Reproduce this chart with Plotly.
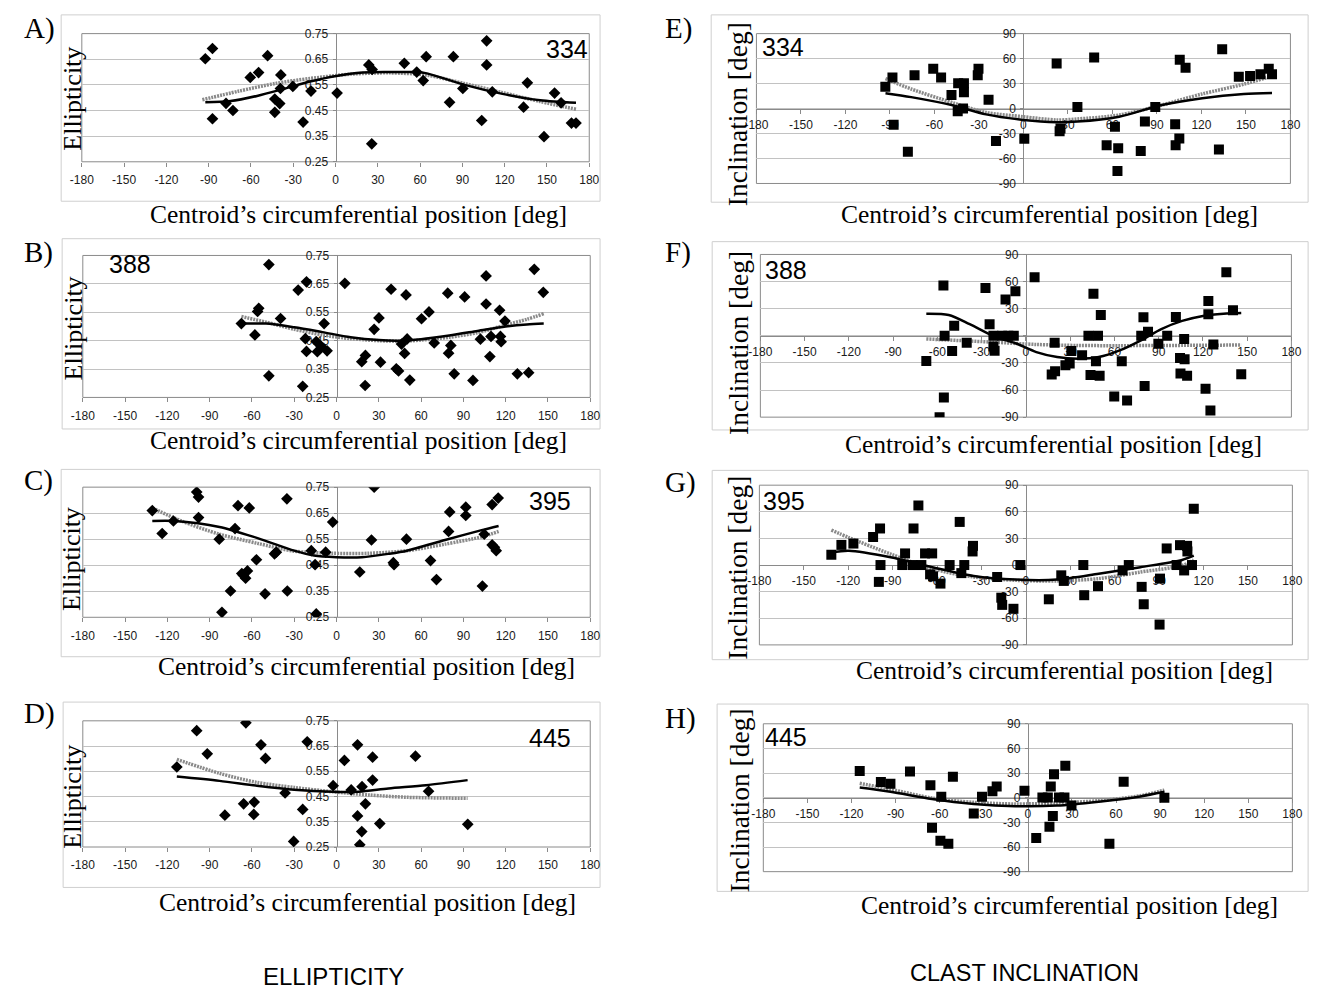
import plotly.graph_objects as go

W, H = 1325, 995

# ---------------- data ----------------
X_TICKS = [-180, -150, -120, -90, -60, -30, 0, 30, 60, 90, 120, 150, 180]
X_TICK_TEXT = ['-180', '-150', '-120', '-90', '-60', '-30', '0', '30', '60', '90', '120', '150', '180']
ELL_TICKS = [0.25, 0.35, 0.45, 0.55, 0.65, 0.75]
ELL_TICK_TEXT = ['0.25', '0.35', '0.45', '0.55', '0.65', '0.75']
INC_TICKS = [-90, -60, -30, 0, 30, 60, 90]
INC_TICK_TEXT = ['-90', '-60', '-30', '0', '30', '60', '90']

A_x = [-92.4, -87.3, -87.3, -77.7, -72.8, -60.5, -54.6, -48.2, -43.1, -43.1, -39.6, -38.8, -39.1, -30.3, -23.0, -17.4, 1.1, 23.6, 26.0, 25.7, 48.8, 57.6, 62.2, 64.3, 80.9, 83.6, 90.3, 103.7, 107.2, 107.2, 111.2, 133.4, 136.1, 147.9, 155.4, 160.0, 167.4, 170.6]
A_y = [0.652, 0.692, 0.418, 0.478, 0.450, 0.579, 0.598, 0.664, 0.495, 0.443, 0.477, 0.589, 0.536, 0.544, 0.405, 0.526, 0.518, 0.628, 0.610, 0.320, 0.634, 0.600, 0.567, 0.660, 0.482, 0.660, 0.536, 0.411, 0.722, 0.628, 0.523, 0.463, 0.558, 0.348, 0.518, 0.480, 0.401, 0.401]
A_fit_x = [-92.4, -74.5, -55.7, -37.0, -18.2, 0.5, 19.3, 38.1, 56.8, 64.8, 91.6, 118.4, 145.2, 170.6]
A_fit_y = [0.482, 0.487, 0.507, 0.534, 0.563, 0.585, 0.598, 0.600, 0.600, 0.595, 0.550, 0.515, 0.490, 0.480]
A_poly_x = [-94.5, -69.1, -42.3, -18.2, 11.3, 38.1, 64.8, 91.6, 118.4, 145.2, 170.6]
A_poly_y = [0.492, 0.525, 0.556, 0.575, 0.592, 0.597, 0.588, 0.555, 0.520, 0.485, 0.455]

B_x = [-67.5, -57.9, -56.0, -55.2, -48.0, -48.0, -39.7, -27.2, -24.0, -21.3, -22.1, -21.3, -14.4, -13.6, -10.7, -8.8, -6.7, 5.9, 17.9, 20.5, 20.3, 26.7, 30.1, 31.2, 38.7, 42.4, 44.0, 46.1, 48.3, 49.3, 50.1, 52.0, 60.3, 65.6, 69.3, 78.9, 79.5, 81.1, 83.5, 90.9, 96.8, 102.1, 106.1, 106.1, 108.8, 109.6, 115.7, 116.3, 116.8, 119.5, 128.3, 136.3, 140.3, 146.7]
B_y = [0.510, 0.470, 0.553, 0.564, 0.718, 0.326, 0.528, 0.628, 0.289, 0.657, 0.457, 0.412, 0.447, 0.411, 0.429, 0.510, 0.414, 0.652, 0.376, 0.398, 0.292, 0.490, 0.530, 0.374, 0.631, 0.351, 0.343, 0.438, 0.405, 0.611, 0.456, 0.311, 0.527, 0.551, 0.442, 0.617, 0.406, 0.433, 0.333, 0.604, 0.310, 0.455, 0.579, 0.678, 0.394, 0.465, 0.557, 0.465, 0.446, 0.519, 0.333, 0.337, 0.701, 0.620]
B_fit_x = [-67.5, -50, -30, -10, 10, 30, 45, 60, 80, 100, 120, 135, 147]
B_fit_y = [0.510, 0.510, 0.497, 0.480, 0.462, 0.452, 0.450, 0.455, 0.468, 0.484, 0.500, 0.507, 0.510]
B_poly_x = [-67.5, -50, -30, -10, 10, 30, 45, 60, 80, 100, 120, 135, 147]
B_poly_y = [0.535, 0.515, 0.490, 0.470, 0.457, 0.450, 0.448, 0.452, 0.462, 0.478, 0.505, 0.525, 0.545]

C_x = [-130.7, -123.7, -115.7, -99.2, -97.9, -97.9, -83.2, -81.3, -75.2, -72.0, -69.9, -67.2, -66.1, -64.5, -63.2, -61.9, -56.8, -50.7, -44.0, -42.7, -35.2, -34.9, -17.9, -15.2, -14.4, -7.7, -2.7, 16.5, 24.8, 26.7, 40.3, 40.8, 49.6, 66.7, 70.9, 79.5, 80.3, 91.7, 91.7, 103.5, 104.8, 110.4, 110.4, 112.0, 113.3, 114.7]
C_y = [0.660, 0.572, 0.620, 0.731, 0.712, 0.633, 0.550, 0.269, 0.351, 0.591, 0.679, 0.418, 0.412, 0.400, 0.428, 0.670, 0.471, 0.340, 0.494, 0.500, 0.705, 0.351, 0.506, 0.452, 0.263, 0.500, 0.616, 0.424, 0.547, 0.750, 0.460, 0.452, 0.550, 0.468, 0.395, 0.580, 0.655, 0.673, 0.641, 0.370, 0.569, 0.683, 0.528, 0.519, 0.506, 0.708]
C_fit_x = [-130.7, -115, -83, -56, -30, -16, 0, 18, 37, 50, 77, 103, 115]
C_fit_y = [0.620, 0.620, 0.597, 0.554, 0.506, 0.487, 0.481, 0.481, 0.494, 0.506, 0.547, 0.585, 0.601]
C_poly_x = [-130.7, -110, -83, -56, -30, -3, 23, 50, 77, 103, 115]
C_poly_y = [0.670, 0.620, 0.569, 0.534, 0.504, 0.496, 0.496, 0.506, 0.531, 0.559, 0.580]

D_x = [-113.3, -99.2, -91.7, -79.2, -65.9, -64.3, -58.4, -58.7, -53.6, -50.4, -36.5, -30.4, -24.0, -20.8, -2.4, 5.6, 10.4, 14.9, 14.9, 16.5, 17.9, 18.1, 20.5, 25.6, 25.6, 30.7, 56.0, 65.3, 93.1]
D_y = [0.567, 0.711, 0.619, 0.376, 0.421, 0.742, 0.428, 0.379, 0.655, 0.601, 0.464, 0.272, 0.399, 0.667, 0.493, 0.593, 0.476, 0.655, 0.373, 0.259, 0.311, 0.489, 0.421, 0.606, 0.515, 0.343, 0.610, 0.471, 0.340]
D_fit_x = [-113.3, -83, -56.5, -30, -3, 15.5, 36.8, 63.5, 93]
D_fit_y = [0.529, 0.512, 0.493, 0.477, 0.469, 0.469, 0.482, 0.495, 0.515]
D_poly_x = [-113.3, -83, -56.5, -30, -3, 23.5, 50, 93]
D_poly_y = [0.597, 0.542, 0.506, 0.486, 0.469, 0.456, 0.447, 0.443]

E_x = [-93.1, -88.3, -87.5, -77.9, -73.4, -60.8, -55.5, -48.5, -44.3, -44.0, -40.7, -40.1, -40.1, -30.8, -30.3, -23.5, -18.5, 0.6, 22.4, 24.4, 25.0, 36.4, 47.7, 56.1, 61.7, 63.9, 63.4, 79.1, 81.9, 88.9, 102.3, 102.6, 105.1, 105.4, 109.3, 131.8, 134.0, 145.2, 152.8, 159.8, 165.4, 167.6]
E_y = [26.2, 37.2, -19.6, -52.0, 39.9, 47.7, 37.2, 16.4, -3.1, 30.5, 0.0, 30.5, 19.6, 39.9, 47.7, 10.6, -39.1, -36.4, 54.0, -27.4, -23.9, 2.0, 61.4, -44.2, -21.9, -47.7, -75.1, -50.9, -15.7, 2.0, -18.8, -44.2, -36.0, 58.7, 48.9, -49.3, 71.2, 38.3, 39.1, 41.1, 47.7, 41.1]
E_fit_x = [-93, -75.7, -47.7, -25.2, 0, 22.4, 36.4, 64.5, 92.5, 120.6, 148.6, 167.6]
E_fit_y = [18.4, 13.7, 3.9, -7.0, -13.7, -16.4, -15.7, -9.8, 3.9, 12.5, 17.6, 18.8]
E_poly_x = [-93, -75.7, -47.7, -25.2, 0, 22.4, 36.4, 64.5, 92.5, 120.6, 148.6, 167.6]
E_poly_y = [36.0, 23.5, 7.0, -4.7, -9.8, -13.7, -12.5, -7.8, 3.9, 17.6, 29.3, 39.1]

F_x = [-67.5, -58.5, -55.9, -55.6, -55.1, -50.0, -48.6, -40.1, -27.4, -24.6, -22.0, -22.0, -21.2, -13.8, -16.1, -11.9, -8.2, -7.1, 5.9, 17.5, 19.8, 19.5, 26.8, 29.7, 30.8, 38.1, 42.4, 43.8, 45.8, 47.5, 48.9, 50.0, 50.8, 59.9, 65.0, 68.6, 78.2, 79.7, 80.5, 82.8, 89.8, 95.8, 101.7, 104.5, 104.8, 107.3, 107.6, 109.3, 121.8, 123.7, 123.7, 125.1, 127.1, 135.9, 140.4, 146.0]
F_y = [-27.8, -90.0, 55.8, -68.2, 0.0, -16.9, 11.1, -7.8, 52.9, 12.9, 0.0, -11.8, -16.5, 40.2, 0.0, 0.0, 0.0, 49.3, 64.9, -42.7, -39.1, -7.8, -32.5, -30.7, -16.9, -21.6, 0.0, -43.4, 46.4, -28.2, 0.0, -44.2, 23.1, -67.1, -28.2, -71.5, 0.0, 20.5, -55.4, 4.5, -8.9, 0.0, 20.9, -24.5, -41.6, -3.5, -26.0, -44.2, -58.7, 38.4, 23.8, -82.7, -9.6, 70.4, 28.2, -42.4]
F_fit_x = [-67.5, -52.3, -38.1, -21.2, -7.1, 7.1, 21.2, 35.3, 49.4, 63.6, 77.7, 91.8, 105.9, 120, 134, 146]
F_fit_y = [24.5, 23.1, 12.9, -0.9, -8.2, -18.0, -23.5, -25.3, -23.5, -16.2, -5.3, 7.5, 16.5, 22.0, 24.5, 25.3]
F_poly_x = [-67.5, -21.2, 7.1, 35.3, 63.6, 91.8, 146]
F_poly_y = [-3.5, -7.1, -9.6, -10.7, -10.9, -10.7, -10.2]

G_x = [-131.4, -124.6, -116.5, -103.2, -98.5, -98.2, -99.3, -83.5, -81.6, -76.5, -75.9, -72.6, -70.6, -68.1, -64.7, -63.3, -62.7, -57.7, -51.5, -44.7, -43.6, -41.6, -36.0, -35.7, -19.4, -16.6, -16.0, -8.4, -3.7, 15.5, 23.9, 25.6, 38.8, 39.4, 48.7, 65.3, 69.5, 78.2, 79.6, 90.3, 90.6, 95.1, 101.8, 104.1, 106.9, 108.9, 109.1, 112.2, 113.4]
G_y = [11.6, 22.7, 24.2, 31.6, 41.2, 0.0, -19.0, 0.0, 13.1, 0.0, 41.2, 67.1, 0.0, 13.1, -10.5, 13.1, -12.7, -20.9, 0.0, 48.6, -9.1, 0.0, 15.3, 21.6, -13.5, -36.8, -44.9, -49.3, 0.0, -38.6, -11.6, -17.9, 0.0, -34.0, -23.8, -6.1, 0.0, -24.6, -44.2, -67.1, -15.3, 18.7, 0.0, 22.4, -6.1, 21.6, 15.3, 0.0, 63.4]
G_fit_x = [-131.4, -119.5, -91.4, -63.3, -35.2, -7, 21.1, 49.2, 77.4, 105.5, 113.4]
G_fit_y = [14.2, 16.1, 8.7, -2.4, -12.4, -16.4, -16.4, -9.8, -2.4, 5.7, 10.5]
G_poly_x = [-131.4, -119.5, -91.4, -63.3, -35.2, -7, 21.1, 49.2, 77.4, 105.5, 113.4]
G_poly_y = [39.4, 30.9, 12.4, -4.2, -13.5, -17.2, -17.9, -15.3, -7.9, -0.6, 5.7]

H_x = [-114.4, -100.0, -93.5, -80.2, -66.3, -65.2, -59.5, -58.9, -54.1, -51.0, -36.8, -31.2, -24.1, -21.2, -2.3, 5.7, 9.9, 13.6, 15.6, 14.7, 17.0, 17.8, 21.2, 24.9, 25.5, 29.7, 55.5, 65.2, 92.9]
H_y = [32.6, 19.1, 17.1, 31.8, 15.1, -36.6, -52.5, 1.2, -56.1, 25.5, -19.1, 1.2, 8.0, 13.5, 8.4, -49.0, 0.4, 0.4, 13.5, -35.4, -22.3, 28.7, 0.4, 0.4, 39.0, -9.6, -56.1, 19.5, 0.0]
H_fit_x = [-114.4, -93.5, -65.2, -36.8, -8.5, 19.8, 48.2, 76.5, 92.9]
H_fit_y = [12.3, 7.2, -1.6, -7.6, -10.3, -9.6, -4.8, 1.6, 7.2]
H_poly_x = [-114.4, -93.5, -65.2, -36.8, -8.5, 19.8, 48.2, 76.5, 92.9]
H_poly_y = [17.5, 10.3, -0.4, -5.6, -7.6, -6.4, -3.6, 2.4, 9.2]

SERIES = {
    'A': (A_x, A_y, A_fit_x, A_fit_y, A_poly_x, A_poly_y),
    'B': (B_x, B_y, B_fit_x, B_fit_y, B_poly_x, B_poly_y),
    'C': (C_x, C_y, C_fit_x, C_fit_y, C_poly_x, C_poly_y),
    'D': (D_x, D_y, D_fit_x, D_fit_y, D_poly_x, D_poly_y),
    'E': (E_x, E_y, E_fit_x, E_fit_y, E_poly_x, E_poly_y),
    'F': (F_x, F_y, F_fit_x, F_fit_y, F_poly_x, F_poly_y),
    'G': (G_x, G_y, G_fit_x, G_fit_y, G_poly_x, G_poly_y),
    'H': (H_x, H_y, H_fit_x, H_fit_y, H_poly_x, H_poly_y),
}
SAMPLE = {'A': '334', 'B': '388', 'C': '395', 'D': '445',
          'E': '334', 'F': '388', 'G': '395', 'H': '445'}

# ---------------- layout geometry (pixels) ----------------
PANELS = [
    dict(key='A', kind='ell', plot=(71, 587, 27, 157), box=(50, 598, 8, 197), lab=(10, 22), num=(564, 43), xt=(352, 210), yt=(62, 93)),
    dict(key='B', kind='ell', plot=(72, 588, 252, 396), box=(51, 598, 235, 428), lab=(10, 249), num=(120, 261), xt=(352, 440), yt=(62, 326)),
    dict(key='C', kind='ell', plot=(72, 588, 487, 619), box=(50, 598, 469, 659), lab=(10, 480), num=(547, 501), xt=(360, 669), yt=(60, 560)),
    dict(key='D', kind='ell', plot=(72, 588, 724, 852), box=(52, 598, 705, 893), lab=(10, 717), num=(547, 741), xt=(362, 908), yt=(62, 801)),
    dict(key='E', kind='inc', plot=(757, 1300, 27, 179), box=(711, 1318, 8, 198), lab=(662, 22), num=(784, 41), xt=(1055, 210), yt=(738, 109)),
    dict(key='F', kind='inc', plot=(761, 1301, 251, 416), box=(712, 1318, 238, 429), lab=(662, 249), num=(787, 267), xt=(1059, 444), yt=(738, 341)),
    dict(key='G', kind='inc', plot=(760, 1302, 485, 647), box=(712, 1318, 470, 662), lab=(662, 482), num=(785, 501), xt=(1070, 673), yt=(738, 569)),
    dict(key='H', kind='inc', plot=(764, 1302, 727, 877), box=(717, 1318, 707, 897), lab=(662, 722), num=(787, 740), xt=(1075, 911), yt=(740, 805)),
]

SERIF = 'Liberation Serif'
SANS = 'Liberation Sans'
GRID = '#c2c2c2'
AXIS = '#8a8a8a'
TICKFONT = dict(family=SANS, size=12, color='#1a1a1a')


def px(x):
    return x / W


def py(y):
    return 1 - y / H


fig = go.Figure()
shapes = []
annotations = []
layout_axes = {}

for i, p in enumerate(PANELS):
    n = i + 1
    xa = 'x' if n == 1 else f'x{n}'
    ya = 'y' if n == 1 else f'y{n}'
    xs, ys, fx, fy, qx, qy = SERIES[p['key']]
    ell = p['kind'] == 'ell'

    # polynomial trend (grey textured) and moving trend (black)
    fig.add_trace(go.Scatter(x=qx, y=qy, mode='lines', xaxis=xa, yaxis=ya,
                             line=dict(color='#8a8a8a', width=3.5, dash='2px,1px', shape='spline', smoothing=0.8),
                             showlegend=False, hoverinfo='skip'))
    fig.add_trace(go.Scatter(x=fx, y=fy, mode='lines', xaxis=xa, yaxis=ya,
                             line=dict(color='black', width=2.5, shape='spline', smoothing=0.8),
                             showlegend=False, hoverinfo='skip'))
    fig.add_trace(go.Scatter(x=xs, y=ys, mode='markers', xaxis=xa, yaxis=ya,
                             marker=dict(symbol='diamond' if ell else 'square', size=9 if ell else 10,
                                         color='black', line=dict(width=0)),
                             showlegend=False))

    x0, x1, y0, y1 = p['plot']
    dom_x = [px(x0), px(x1)]
    dom_y = [py(y1), py(y0)]
    zx = px((x0 + x1) / 2)
    zy = py((y0 + y1) / 2)

    xname = 'xaxis' if n == 1 else f'xaxis{n}'
    yname = 'yaxis' if n == 1 else f'yaxis{n}'
    if ell:
        layout_axes[xname] = dict(domain=dom_x, range=[-180, 180], tickmode='array', tickvals=X_TICKS,
                                  ticktext=X_TICK_TEXT,
                                  anchor=ya, showgrid=False, zeroline=False, showline=False,
                                  ticks='outside', ticklen=4, tickcolor=AXIS, tickfont=TICKFONT,
                                  ticklabelstandoff=3, fixedrange=True)
        layout_axes[yname] = dict(domain=dom_y, range=[0.25, 0.75], tickmode='array', tickvals=ELL_TICKS,
                                  ticktext=ELL_TICK_TEXT,
                                  anchor='free', position=zx, showgrid=True, gridcolor=GRID, gridwidth=1,
                                  showline=True, linecolor=AXIS, linewidth=1, zeroline=False,
                                  ticks='outside', ticklen=3, tickcolor=AXIS, tickfont=TICKFONT,
                                  ticklabelstandoff=2, layer='below traces', fixedrange=True)
    else:
        layout_axes[xname] = dict(domain=dom_x, range=[-180, 180], tickmode='array', tickvals=X_TICKS,
                                  ticktext=X_TICK_TEXT,
                                  anchor='free', position=zy, showgrid=False, zeroline=False,
                                  showline=True, linecolor=AXIS, linewidth=1,
                                  ticks='outside', ticklen=4, tickcolor=AXIS, tickfont=TICKFONT,
                                  ticklabelstandoff=1, layer='below traces', fixedrange=True)
        layout_axes[yname] = dict(domain=dom_y, range=[-90, 90], tickmode='array', tickvals=INC_TICKS,
                                  ticktext=INC_TICK_TEXT,
                                  anchor='free', position=zx, showgrid=True, gridcolor=GRID, gridwidth=1,
                                  showline=True, linecolor=AXIS, linewidth=1, zeroline=False,
                                  ticks='outside', ticklen=3, tickcolor=AXIS, tickfont=TICKFONT,
                                  ticklabelstandoff=2, layer='below traces', fixedrange=True)

    # plot-area border and chart box
    shapes.append(dict(type='rect', xref=f'{xa} domain', yref=f'{ya} domain', x0=0, x1=1, y0=0, y1=1,
                       line=dict(color=AXIS, width=1), layer='below'))
    bx0, bx1, by0, by1 = p['box']
    shapes.append(dict(type='rect', xref='paper', yref='paper', x0=px(bx0), x1=px(bx1), y0=py(by1), y1=py(by0),
                       line=dict(color='#cfcfcf', width=1), layer='below'))

    annotations.append(dict(text=p['key'] + ')', x=px(p['lab'][0]), y=py(p['lab'][1]), xref='paper', yref='paper',
                            showarrow=False, xanchor='left', yanchor='middle',
                            font=dict(family=SERIF, size=29, color='black')))
    annotations.append(dict(text=SAMPLE[p['key']], x=px(p['num'][0]), y=py(p['num'][1]), xref='paper', yref='paper',
                            showarrow=False, xanchor='center', yanchor='middle',
                            font=dict(family=SANS, size=25 if ell else 25, color='black')))
    annotations.append(dict(text='Centroid’s circumferential position [deg]', x=px(p['xt'][0]), y=py(p['xt'][1]),
                            xref='paper', yref='paper', showarrow=False, xanchor='center', yanchor='middle',
                            font=dict(family=SERIF, size=25.5, color='black')))
    annotations.append(dict(text='Ellipticity' if ell else 'Inclination [deg]', x=px(p['yt'][0]), y=py(p['yt'][1]),
                            xref='paper', yref='paper', showarrow=False, xanchor='center', yanchor='middle',
                            textangle=-90, font=dict(family=SERIF, size=26 if ell else 27.5, color='black')))

annotations.append(dict(text='ELLIPTICITY', x=px(327), y=py(983), xref='paper', yref='paper', showarrow=False,
                        xanchor='center', yanchor='middle', font=dict(family=SANS, size=24, color='black')))
annotations.append(dict(text='CLAST INCLINATION', x=px(1030), y=py(980), xref='paper', yref='paper', showarrow=False,
                        xanchor='center', yanchor='middle', font=dict(family=SANS, size=23.5, color='black')))

fig.update_layout(width=W, height=H, autosize=False, margin=dict(l=0, r=0, t=0, b=0),
                  paper_bgcolor='white', plot_bgcolor='white', showlegend=False,
                  shapes=shapes, annotations=annotations, **layout_axes)

fig.write_html('out.html')
